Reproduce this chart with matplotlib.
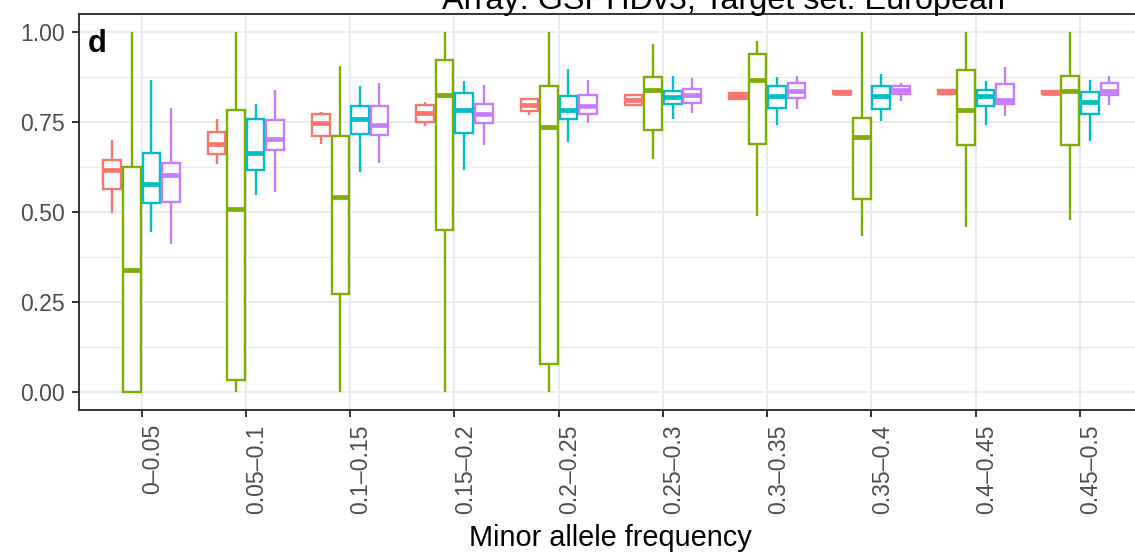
import matplotlib
matplotlib.use("Agg")
import matplotlib.pyplot as plt
import numpy as np
from matplotlib.ticker import MultipleLocator, FixedLocator
from matplotlib.transforms import ScaledTranslation

plt.rcParams['font.family'] = ['Liberation Sans', 'DejaVu Sans']

# ---------------- data ----------------
categories = ["0\u20130.05", "0.05\u20130.1", "0.1\u20130.15", "0.15\u20130.2", "0.2\u20130.25",
              "0.25\u20130.3", "0.3\u20130.35", "0.35\u20130.4", "0.4\u20130.45", "0.45\u20130.5"]
group_colors = ["#F8766D", "#7CAE00", "#00BFC4", "#C77CFF"]

# each group: whisker low, Q1, median, Q3, whisker high (per category)
red_whislo = [0.497, 0.633, 0.688, 0.738, 0.769, 0.794, 0.810, 0.826, 0.826, 0.826]
red_q1     = [0.563, 0.660, 0.711, 0.750, 0.780, 0.798, 0.815, 0.827, 0.827, 0.827]
red_med    = [0.616, 0.690, 0.747, 0.774, 0.798, 0.812, 0.822, 0.831, 0.833, 0.831]
red_q3     = [0.644, 0.721, 0.771, 0.798, 0.814, 0.824, 0.830, 0.836, 0.838, 0.836]
red_whishi = [0.699, 0.757, 0.778, 0.805, 0.818, 0.828, 0.833, 0.837, 0.839, 0.837]

green_whislo = [0.000, 0.000, 0.000, 0.000, 0.000, 0.646, 0.489, 0.433, 0.457, 0.477]
green_q1     = [0.000, 0.034, 0.273, 0.449, 0.079, 0.727, 0.690, 0.536, 0.687, 0.687]
green_med    = [0.340, 0.508, 0.542, 0.824, 0.736, 0.838, 0.866, 0.708, 0.783, 0.836]
green_q3     = [0.625, 0.783, 0.710, 0.921, 0.849, 0.875, 0.938, 0.761, 0.894, 0.877]
green_whishi = [1.000, 1.000, 0.905, 1.000, 1.000, 0.968, 0.974, 1.000, 1.000, 1.000]

blue_whislo = [0.444, 0.548, 0.611, 0.618, 0.694, 0.759, 0.743, 0.752, 0.743, 0.696]
blue_q1     = [0.526, 0.618, 0.718, 0.719, 0.758, 0.799, 0.790, 0.787, 0.795, 0.773]
blue_med    = [0.577, 0.664, 0.759, 0.783, 0.783, 0.819, 0.821, 0.821, 0.822, 0.806]
blue_q3     = [0.664, 0.757, 0.794, 0.831, 0.822, 0.836, 0.849, 0.849, 0.840, 0.832]
blue_whishi = [0.866, 0.800, 0.850, 0.863, 0.896, 0.877, 0.875, 0.882, 0.863, 0.868]

purple_whislo = [0.412, 0.556, 0.636, 0.687, 0.747, 0.776, 0.785, 0.807, 0.766, 0.798]
purple_q1     = [0.528, 0.673, 0.715, 0.747, 0.773, 0.804, 0.817, 0.829, 0.799, 0.826]
purple_med    = [0.602, 0.702, 0.743, 0.773, 0.794, 0.824, 0.836, 0.840, 0.810, 0.836]
purple_q3     = [0.637, 0.755, 0.794, 0.799, 0.824, 0.843, 0.857, 0.849, 0.855, 0.857]
purple_whishi = [0.790, 0.838, 0.857, 0.854, 0.866, 0.873, 0.878, 0.859, 0.903, 0.878]

y_ticks = [0.00, 0.25, 0.50, 0.75, 1.00]
title = "Array: GSPHDv3, Target set: European"
x_label = "Minor allele frequency"
panel_tag = "d"

groups = [
    (red_whislo, red_q1, red_med, red_q3, red_whishi),
    (green_whislo, green_q1, green_med, green_q3, green_whishi),
    (blue_whislo, blue_q1, blue_med, blue_q3, blue_whishi),
    (purple_whislo, purple_q1, purple_med, purple_q3, purple_whishi),
]

# ---------------- figure ----------------
W, H = 1135, 552
fig = plt.figure(figsize=(W / 100, H / 100), dpi=100)
left_px, right_px, top_px, bot_px = 79, 1142.6, 14, 410
ax = fig.add_axes([left_px / W, 1 - bot_px / H, (right_px - left_px) / W, (bot_px - top_px) / H])

n = len(categories)
x = np.arange(n)
dodge = 0.75 / 4
offsets = [(-1.5 + i) * dodge for i in range(4)]
box_w = dodge * 0.9
lw = 1.7

for (wlo, q1, med, q3, whi), off, col in zip(groups, offsets, group_colors):
    stats = [dict(whislo=wlo[i], q1=q1[i], med=med[i], q3=q3[i], whishi=whi[i]) for i in range(n)]
    ax.bxp(stats, positions=x + off, widths=box_w, showfliers=False, showcaps=False,
           patch_artist=True, manage_ticks=False,
           boxprops=dict(facecolor="white", edgecolor=col, linewidth=lw),
           whiskerprops=dict(color=col, linewidth=lw, solid_capstyle="butt"),
           medianprops=dict(color=col, linewidth=lw * 2, solid_capstyle="butt"))

ax.set_xlim(-0.6, n - 1 + 0.6)
ax.set_ylim(-0.05, 1.05)
ax.xaxis.set_major_locator(FixedLocator(x))
ax.set_xticklabels(categories, rotation=90)
ax.set_yticks(y_ticks)
ax.set_yticklabels([f"{v:.2f}" for v in y_ticks])
ax.yaxis.set_minor_locator(MultipleLocator(0.125))

ax.set_axisbelow(True)
ax.grid(which="major", color="#EBEBEB", linewidth=1.5)
ax.grid(which="minor", axis="y", color="#EBEBEB", linewidth=0.8)
ax.tick_params(which="minor", length=0)
ax.tick_params(which="major", length=4.7, width=1.4, color="#333333",
               labelcolor="#4D4D4D", labelsize=16.6, pad=5.4)
for s in ax.spines.values():
    s.set_color("#333333")
    s.set_linewidth(1.4)

shift = ScaledTranslation(11 / 100, 0, fig.dpi_scale_trans)
for lbl in ax.get_xticklabels():
    lbl.set_transform(lbl.get_transform() + shift)

fig.text(610 / W, 1 - 546 / H, x_label, ha="center", va="baseline", fontsize=20.8, color="black")
fig.text(724 / W, 1 - 9 / H, title, ha="center", va="baseline", fontsize=23.3, color="black")
fig.text(88 / W, 1 - 51.5 / H, panel_tag, ha="left", va="baseline", fontsize=22.3,
         fontweight="bold", color="black")

fig.savefig("out.png", dpi=100)
